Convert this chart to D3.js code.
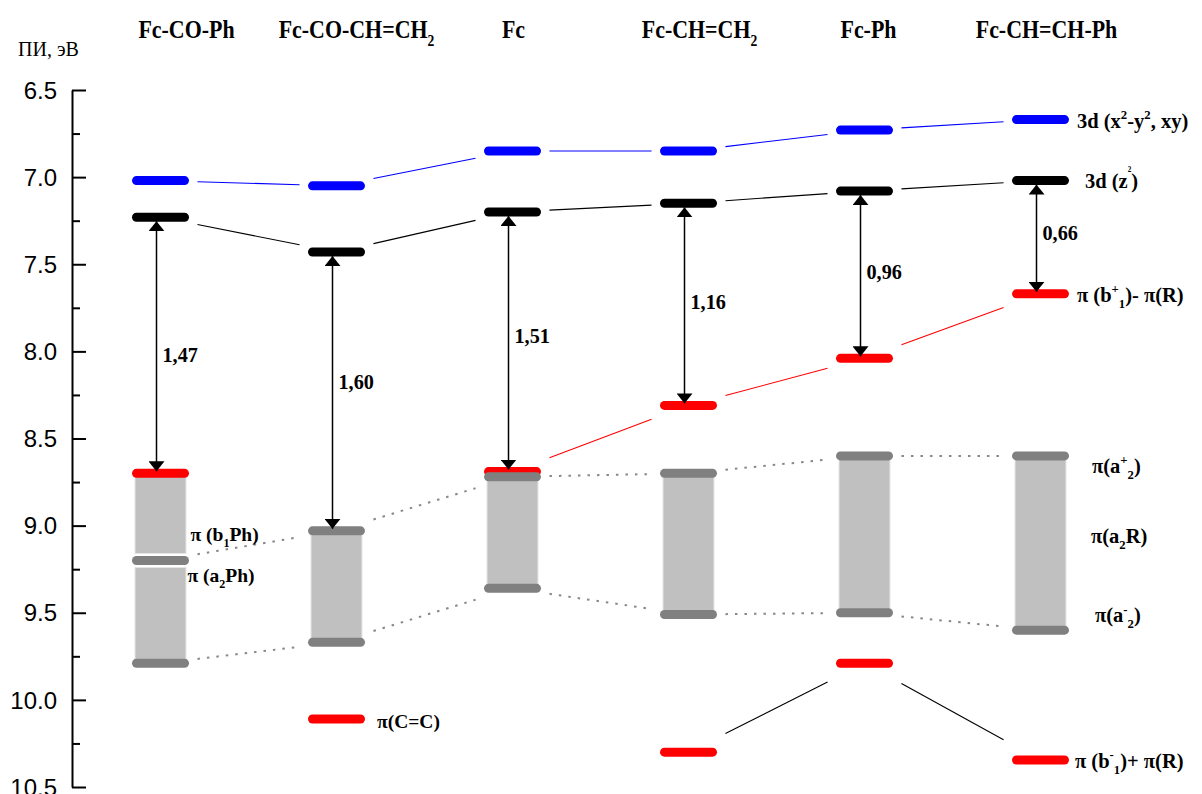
<!DOCTYPE html>
<html>
<head>
<meta charset="utf-8">
<script src="https://cdn.jsdelivr.net/npm/d3@7"></script>
<style>
  body { margin: 0; background: #fff; }
  svg { display: block; }
  .serif { font-family: "Liberation Serif", "Times New Roman", serif; }
</style>
</head>
<body>
<div id="chart"></div>
<script>
// columns of the diagram
const compounds = ["Fc-CO-Ph", "Fc-CO-CH=CH2", "Fc", "Fc-CH=CH2", "Fc-Ph", "Fc-CH=CH-Ph"];

// ionization energies, eV
const e3dXY = [7.02, 7.05, 6.85, 6.85, 6.73, 6.67];
const e3dZ2 = [7.23, 7.43, 7.20, 7.15, 7.08, 7.02];
const piUpper = [8.70, null, 8.69, 8.31, 8.04, 7.67];
const piLower = [null, 10.11, null, 10.30, 9.79, 10.345];
const grayTop = [9.20, 9.03, 8.72, 8.70, 8.60, 8.60];
const grayBottom = [9.79, 9.67, 9.36, 9.51, 9.50, 9.60];

// shaded pi bands
const bandCol = [0, 0, 1, 2, 3, 4, 5];
const bandFrom = [8.70, 9.24, 9.03, 8.72, 8.70, 8.60, 8.60];
const bandTo = [9.16, 9.77, 9.67, 9.36, 9.51, 9.50, 9.60];

// arrows: 3d(z2) -> pi level
const gapTo = [8.70, 9.03, 8.69, 8.31, 8.04, 7.67];
const gapLabels = ["1,47", "1,60", "1,51", "1,16", "0,96", "0,66"];

// axis ticks
const majorTicks = [6.5, 7.0, 7.5, 8.0, 8.5, 9.0, 9.5, 10.0, 10.5];
const minorTicks = [6.75, 7.25, 7.75, 8.25, 8.75, 9.25, 9.75, 10.25];

const W = 1202, H = 794;
const svg = d3.select("#chart").append("svg")
  .attr("width", W).attr("height", H);

const y = d3.scaleLinear().domain([6.5, 10.5]).range([90, 787]);
const x = d3.scalePoint().domain(d3.range(compounds.length)).range([160.5, 1040.5]);

const LW = 57, LH = 9, BW = 51;

// rich text helper: parts = [[text, mode], ...]
function rich(sel, parts, size) {
  let shift = 0;
  parts.forEach(([t, mode]) => {
    let s = 0, fs = size;
    if (mode === "sup") { s = -size * 0.42; fs = size * 0.62; }
    if (mode === "sub") { s = size * 0.3; fs = size * 0.62; }
    if (mode === "tiny") { s = -size * 0.75; fs = size * 0.35; }
    sel.append("tspan").attr("dy", s - shift).attr("font-size", fs).text(t);
    shift = s;
  });
}

// y axis
const axisG = svg.append("g").attr("transform", "translate(72,0)");
axisG.call(d3.axisLeft(y).tickValues(majorTicks).tickSize(-14).tickSizeOuter(0)
  .tickPadding(15).tickFormat(d3.format(".1f")));
axisG.append("g").call(d3.axisLeft(y).tickValues(minorTicks).tickSize(-8).tickSizeOuter(0).tickFormat(""))
  .select(".domain").remove();
axisG.selectAll(".domain, line").attr("stroke", "#000").attr("stroke-width", 2);
axisG.selectAll("text")
  .attr("font-family", "Liberation Sans, Arial, sans-serif")
  .attr("font-size", 24).attr("fill", "#000").attr("dy", "0.34em");

svg.append("text").attr("class", "serif")
  .attr("x", 18).attr("y", 56).attr("font-size", 20).text("ПИ, эВ");

// column titles (slightly condensed, like the original typeface)
compounds.forEach((c, i) => {
  const cx = x(i) + [26, 20, 1, 11, 4, 6][i];
  const t = svg.append("text").attr("class", "serif")
    .attr("transform", `translate(${cx},38) scale(0.86,1)`)
    .attr("text-anchor", "middle").attr("font-weight", "bold").attr("font-size", 25.5);
  if (/CH2$/.test(c)) rich(t, [[c.slice(0, -1), ""], ["2", "sub"]], 25.5);
  else t.text(c);
});

// connector lines, drawn over the middle part between level centres
function connect(vals, color, dotted) {
  for (let i = 0; i < vals.length - 1; i++) {
    const a = vals[i], b = vals[i + 1];
    if (a == null || b == null) continue;
    const x1 = x(i), x2 = x(i + 1), y1 = y(a), y2 = y(b);
    const l = svg.append("line")
      .attr("x1", x1 + (x2 - x1) * 0.21).attr("y1", y1 + (y2 - y1) * 0.21)
      .attr("x2", x1 + (x2 - x1) * 0.79).attr("y2", y1 + (y2 - y1) * 0.79)
      .attr("stroke", color).attr("stroke-width", dotted ? 2 : 1.1);
    if (dotted) l.attr("stroke-dasharray", "2.5,7");
  }
}
connect(e3dXY, "#0000ff");
connect(e3dZ2, "#000");
connect(piUpper, "#ff0000");
connect(piLower, "#000");
connect(grayTop, "#888", true);
connect(grayBottom, "#888", true);

// bands
svg.selectAll(".band").data(bandCol).enter().append("rect")
  .attr("class", "band")
  .attr("x", d => x(d) - BW / 2)
  .attr("y", (d, i) => y(bandFrom[i]))
  .attr("width", BW)
  .attr("height", (d, i) => y(bandTo[i]) - y(bandFrom[i]))
  .attr("fill", "#c0c0c0").attr("stroke", "#e6e6e6").attr("stroke-width", 1);

// levels
function levels(vals, color) {
  vals.forEach((v, i) => {
    if (v == null) return;
    svg.append("rect")
      .attr("x", x(i) - LW / 2).attr("y", y(v) - LH / 2)
      .attr("width", LW).attr("height", LH).attr("rx", LH / 2)
      .attr("fill", color);
  });
}
levels(piUpper, "#ff0000");
levels(piLower, "#ff0000");
levels(grayTop, "#808080");
levels(grayBottom, "#808080");
levels(e3dXY, "#0000ff");
levels(e3dZ2, "#000");

// double arrows
const defs = svg.append("defs");
defs.append("marker").attr("id", "ah").attr("viewBox", "0 0 10 16")
  .attr("refX", 10).attr("refY", 8).attr("markerWidth", 10).attr("markerHeight", 16)
  .attr("markerUnits", "userSpaceOnUse").attr("orient", "auto-start-reverse")
  .append("path").attr("d", "M0,0L10,8L0,16Z").attr("fill", "#000");

e3dZ2.forEach((v, i) => {
  const ax = x(i) - 4;
  svg.append("line")
    .attr("x1", ax).attr("y1", y(v) + 4)
    .attr("x2", ax).attr("y2", y(gapTo[i]) - 2)
    .attr("stroke", "#000").attr("stroke-width", 1.5)
    .attr("marker-start", "url(#ah)").attr("marker-end", "url(#ah)");
  svg.append("text").attr("class", "serif")
    .attr("transform", `translate(${ax + 6},${(y(v) + y(gapTo[i])) / 2 + [17, -2, 1, 5, 4, 3][i]}) scale(0.92,1)`)
    .attr("font-weight", "bold").attr("font-size", 22)
    .text(gapLabels[i]);
});

// level labels
const FS = 20.5;
function label(px, py, parts, size) {
  const t = svg.append("text").attr("class", "serif")
    .attr("x", px).attr("y", py).attr("font-weight", "bold").attr("font-size", size || FS);
  rich(t, parts, size || FS);
}
const r = x(5) + LW / 2;
label(r + 8, y(e3dXY[5]) + 8, [["3d (x", ""], ["2", "sup"], ["-y", ""], ["2", "sup"], [", xy)", ""]]);
label(r + 16, y(e3dZ2[5]) + 7, [["3d (z", ""], ["2", "tiny"], [")", ""]]);
label(r + 8, y(piUpper[5]) + 8, [["π (b", ""], ["+", "sup"], ["1", "sub"], [")- π(R)", ""]]);
label(r + 23, y(grayTop[5]) + 17, [["π(a", ""], ["+", "sup"], ["2", "sub"], [")", ""]]);
label(r + 22, (y(grayTop[5]) + y(grayBottom[5])) / 2 + 0, [["π(a", ""], ["2", "sub"], ["R)", ""]]);
label(r + 26, y(grayBottom[5]) - 8, [["π(a", ""], ["-", "sup"], ["2", "sub"], [")", ""]]);
label(r + 6, y(piLower[5]) + 8, [["π (b", ""], ["-", "sup"], ["1", "sub"], [")+ π(R)", ""]]);

label(x(0) + 30, y(grayTop[0]) - 19, [["π (b", ""], ["1", "sub"], ["Ph)", ""]], 19.5);
label(x(0) + 27, y(grayTop[0]) + 22, [["π (a", ""], ["2", "sub"], ["Ph)", ""]], 19.5);
label(x(1) + LW / 2 + 12, y(piLower[1]) + 9, [["π(C=C)", ""]], 19.5);
</script>
</body>
</html>
